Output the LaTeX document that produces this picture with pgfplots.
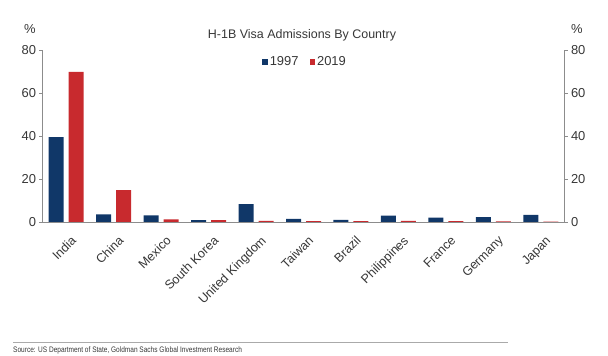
\documentclass[border=0pt]{standalone}
\usepackage{pgfplots}
\pgfplotsset{compat=1.18}
\usepackage{graphicx}
\usepackage{fontspec}
\setmainfont{Liberation Sans}
\definecolor{navy}{RGB}{16,55,104}
\definecolor{myred}{RGB}{200,42,46}
\definecolor{axgray}{RGB}{140,140,140}
\definecolor{txt}{RGB}{55,55,55}
\begin{document}
\begin{tikzpicture}
\path[use as bounding box] (0,0) rectangle (608bp,356bp);
\begin{axis}[
  at={(42.5bp,134bp)}, anchor=south west,
  scale only axis, width=522bp, height=172bp,
  xmin=-0.5, xmax=10.5, ymin=0, ymax=80,
  axis x line*=bottom, axis y line*=left,
  axis line style={axgray, line width=0.6bp},
  every tick/.style={axgray, line width=0.6bp},
  tick align=outside,
  major tick length=3bp, minor tick length=3.5bp,
  ytick={0,20,40,60,80},
  xtick={0,...,10},
  xticklabels={India,China,Mexico,South Korea,United Kingdom,Taiwan,Brazil,Philippines,France,Germany,Japan},
  x tick style={draw=none},
  minor xtick={-0.5,0.5,...,10.5},
  minor x tick style={axgray, line width=0.6bp},
  /pgf/number format/assume math mode=true,
  yticklabel style={font=\fontsize{13}{13}\selectfont, text=txt},
  xticklabel style={font=\fontsize{12.6}{13}\selectfont, text=txt, rotate=45, anchor=north east, xshift=-3bp, yshift=-9bp, inner sep=1bp},
  ybar=5bp, bar width=15bp,
  legend style={at={(0.503,0.93)}, anchor=center, draw=none, fill=none,
    font=\fontsize{13}{13}\selectfont, text=txt, legend columns=2,
    /tikz/every even column/.append style={column sep=9bp},
    inner sep=0pt},
  legend image code/.code={\fill[#1] (0bp,-2.8bp) rectangle (5.5bp,2.8bp);},
]
\addplot[fill=navy, draw=none] coordinates {(0,39.5) (1,3.6) (2,3.1) (3,0.9) (4,8.3) (5,1.5) (6,1.0) (7,3.0) (8,2.0) (9,2.3) (10,3.3)};
\addplot[fill=myred, draw=none] coordinates {(0,69.8) (1,14.8) (2,1.2) (3,0.9) (4,0.5) (5,0.4) (6,0.4) (7,0.5) (8,0.4) (9,0.3) (10,0.2)};
\legend{1997,2019}
\end{axis}
\begin{axis}[
  at={(42.5bp,134bp)}, anchor=south west,
  scale only axis, width=522bp, height=172bp,
  xmin=-0.5, xmax=10.5, ymin=0, ymax=80,
  axis x line=none, axis y line*=right,
  axis line style={axgray, line width=0.6bp},
  every tick/.style={axgray, line width=0.6bp},
  tick align=outside, major tick length=3bp,
  ytick={0,20,40,60,80},
  /pgf/number format/assume math mode=true,
  yticklabel style={font=\fontsize{13}{13}\selectfont, text=txt},
]
\addplot[draw=none] coordinates {(0,0)};
\end{axis}
\node[font=\fontsize{12.5}{13}\selectfont, text=txt] at (302bp,321bp) {H-1B Visa Admissions By Country};
\node[font=\fontsize{13}{13}\selectfont, text=txt] at (30bp,327bp) {\%};
\node[font=\fontsize{13}{13}\selectfont, text=txt] at (577bp,327bp) {\%};
\draw[color={rgb,255:red,170;green,170;blue,170}, line width=0.7bp] (13bp,14bp) -- (508bp,14bp);
\node[anchor=west, inner sep=0pt, text=txt, font=\fontsize{8}{8}\selectfont] at (13bp,6bp) {\scalebox{0.82}[1]{Source: US Department of State, Goldman Sachs Global Investment Research}};
\end{tikzpicture}
\end{document}
